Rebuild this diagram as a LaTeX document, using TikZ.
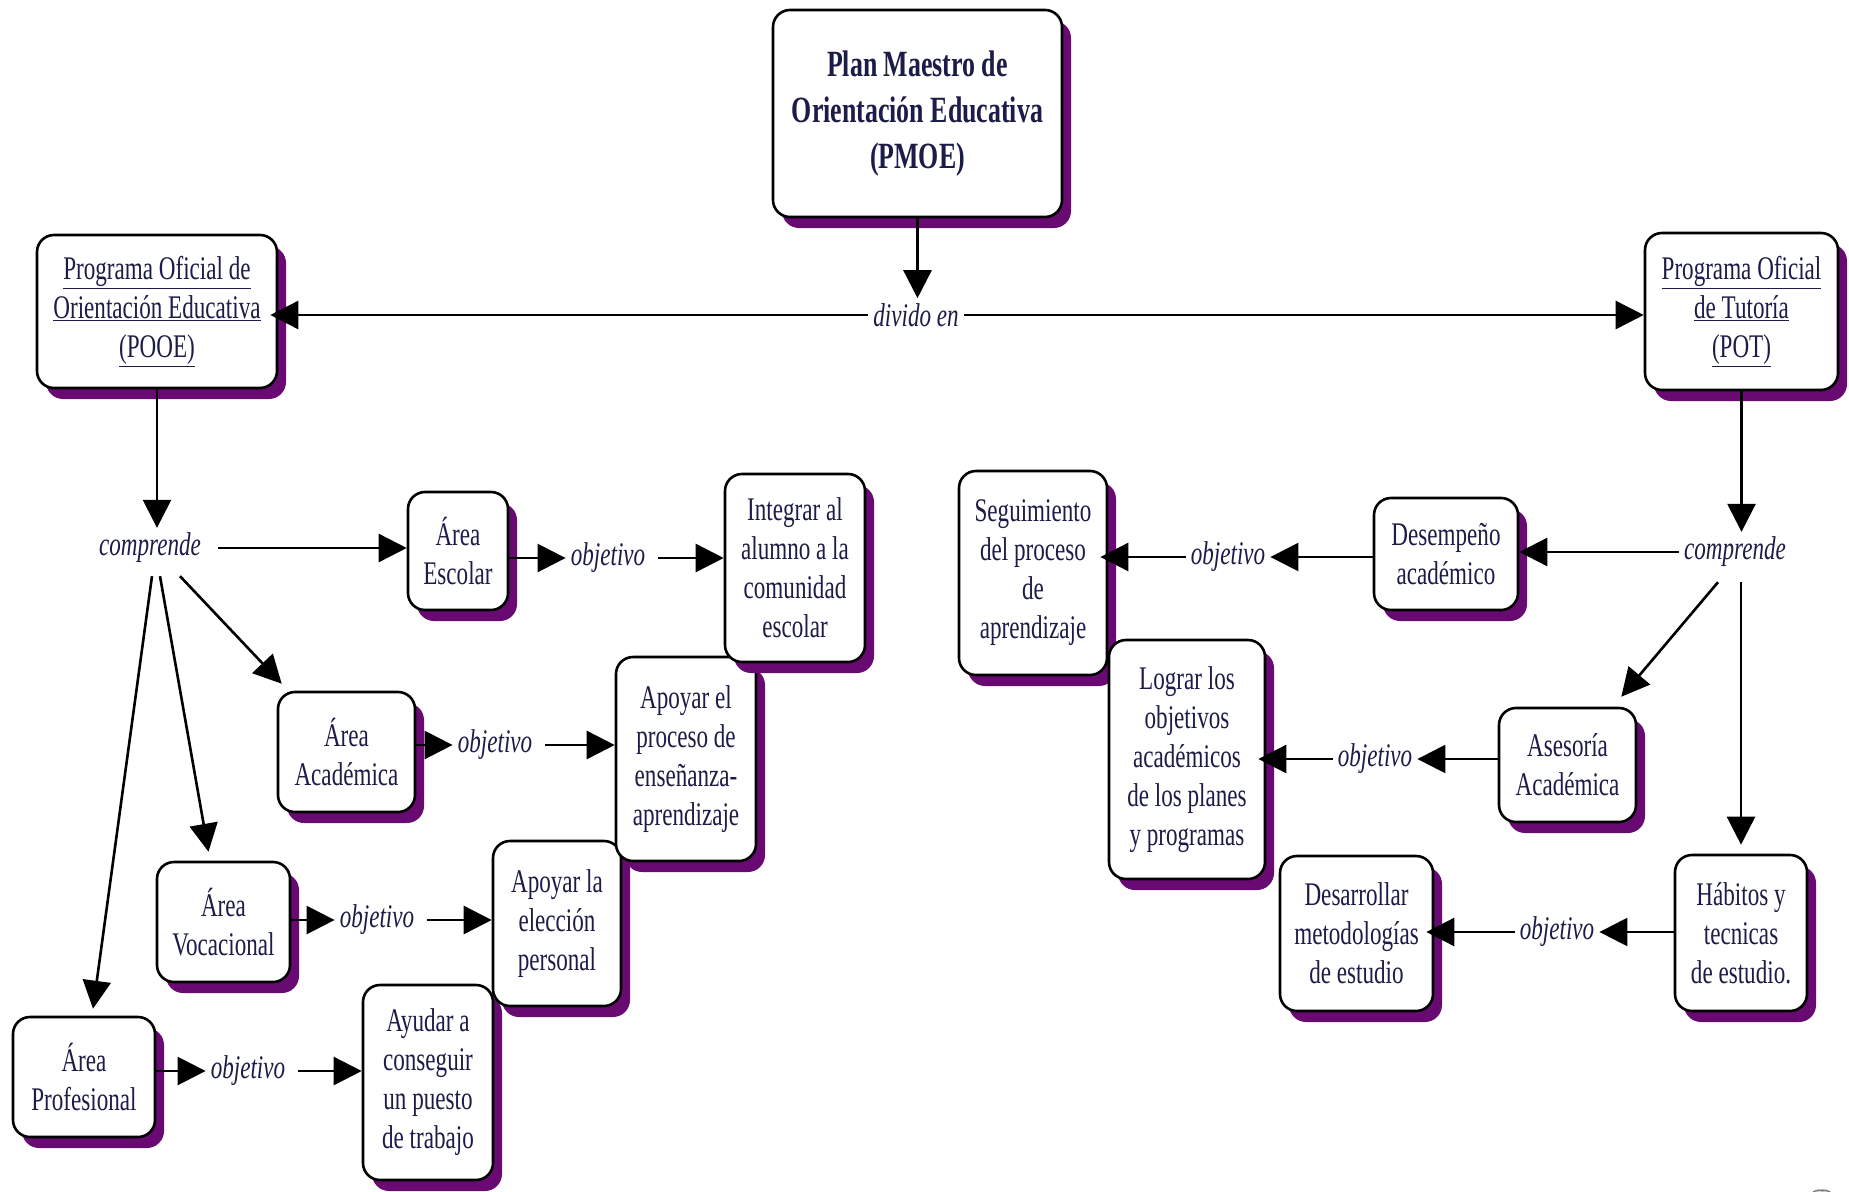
\documentclass[tikz,border=0pt]{standalone}
\usepackage{fontspec}
\setmainfont{Liberation Serif}[FakeStretch=0.7]
\usetikzlibrary{arrows.meta,shadows,calc}
\definecolor{textc}{RGB}{28,28,72}
\definecolor{shadowc}{RGB}{105,10,115}
\begin{document}
\begin{tikzpicture}[x=1pt,y=-1pt,
  box/.style={draw=black, line width=2.6pt, rounded corners=17pt, fill=white,
    align=center, text=textc, inner sep=2pt, font=\fontsize{33}{39}\selectfont,
    drop shadow={shadow xshift=9pt, shadow yshift=-11pt, fill=shadowc, opacity=1}},
  lbl/.style={font=\fontsize{33}{39}\selectfont\itshape, text=textc, inner sep=5pt},
  conn/.style={line width=2.6pt, -{Triangle[length=28pt,width=28pt]}},
  toshadow/.style={shorten >=-8pt}
]
\useasboundingbox (0,0) rectangle (1849,1191);

% top level
\node[box, font=\fontsize{37}{46}\selectfont\bfseries, minimum width=289pt, minimum height=207pt] (pmoe) at (917.5,113.5)
  {Plan Maestro de\\Orientación Educativa\\(PMOE)};
\node[box, minimum width=240pt, minimum height=153pt] (pooe) at (157,311.5)
  {\underline{Programa Oficial de}\\\underline{Orientación Educativa}\\\underline{(POOE)}};
\node[box, minimum width=193pt, minimum height=157pt] (pot) at (1741.5,311.5)
  {\underline{Programa Oficial}\\\underline{de Tutoría}\\\underline{(POT)}};
\node[lbl] (divido) at (916,315) {divido en};

% left side boxes (lower ones first)
\node[box, minimum width=130pt, minimum height=195pt] (ayudar) at (428,1082.5)
  {Ayudar a\\conseguir\\un puesto\\de trabajo};
\node[box, minimum width=142pt, minimum height=120pt] (profesional) at (84,1077)
  {Área\\Profesional};
\node[box, minimum width=128pt, minimum height=165pt] (apoyarE) at (557,923.5)
  {Apoyar la\\elección\\personal};
\node[box, minimum width=133pt, minimum height=120pt] (vocacional) at (223.5,922)
  {Área\\Vocacional};
\node[box, minimum width=140pt, minimum height=204pt] (apoyarP) at (686,759)
  {Apoyar el\\proceso de\\enseñanza-\\aprendizaje};
\node[box, minimum width=137pt, minimum height=120pt] (academica) at (346.5,752)
  {Área\\Académica};
\node[box, minimum width=140pt, minimum height=188pt] (integrar) at (795,568)
  {Integrar al\\alumno a la\\comunidad\\escolar};
\node[box, minimum width=100pt, minimum height=118pt] (escolar) at (458,551)
  {Área\\Escolar};

\node[lbl] (compL) at (150,548) {comprende};
\node[lbl] (obj1) at (608,558) {objetivo};
\node[lbl] (obj2) at (495,745) {objetivo};
\node[lbl] (obj3) at (377,920) {objetivo};
\node[lbl] (obj4) at (248,1071) {objetivo};

% right side boxes
\node[box, minimum width=153pt, minimum height=155pt] (desarrollar) at (1356.5,933.5)
  {Desarrollar\\metodologías\\de estudio};
\node[box, minimum width=132pt, minimum height=156pt] (habitos) at (1741,933)
  {Hábitos y\\tecnicas\\de estudio.};
\node[box, minimum width=148pt, minimum height=204pt] (seguimiento) at (1033,573)
  {Seguimiento\\del proceso\\de\\aprendizaje};
\node[box, minimum width=156pt, minimum height=239pt] (lograr) at (1187,759.5)
  {Lograr los\\objetivos\\académicos\\de los planes\\y programas};
\node[box, minimum width=137pt, minimum height=114pt] (asesoria) at (1567.5,765)
  {Asesoría\\Académica};
\node[box, minimum width=144pt, minimum height=112pt] (desempeno) at (1446,554)
  {Desempeño\\académico};

\node[lbl] (compR) at (1735,552) {comprende};
\node[lbl] (objR1) at (1228,557) {objetivo};
\node[lbl] (objR2) at (1375,759) {objetivo};
\node[lbl] (objR3) at (1557,932) {objetivo};

% page number fragment
\node[text=gray, rotate=90, font=\fontsize{30}{30}\selectfont, inner sep=0pt] (pagenum) at (1822,1194) {9};

% connectors: top
\draw[conn] (pmoe.south) -- (pmoe.south |- divido.north);
\draw[conn, toshadow] (divido.west) -- (divido.west -| pooe.east);
\draw[conn] (divido.east) -- (divido.east -| pot.west);

% left
\draw[conn] (pooe.south) -- (pooe.south |- compL.north);
\draw[conn] ([xshift=12pt]compL.east) -- (compL.east -| escolar.west);
\draw[conn] ($(compL.south)+(30,8)$) -- ($(academica.north west)+(5,-7)$);
\draw[conn] ($(compL.south)+(10,8)$) -- ($(vocacional.north)+(-15,-9)$);
\draw[conn] ($(compL.south)+(2,8)$) -- ($(profesional.north)+(9,-7)$);

\draw[conn] (escolar.east |- obj1.west) -- (obj1.west);
\draw[conn] ([xshift=8pt]obj1.east) -- (obj1.east -| integrar.west);
\draw[conn] (academica.east |- obj2.west) -- (obj2.west);
\draw[conn] ([xshift=8pt]obj2.east) -- (obj2.east -| apoyarP.west);
\draw[conn] (vocacional.east |- obj3.west) -- (obj3.west);
\draw[conn] ([xshift=8pt]obj3.east) -- (obj3.east -| apoyarE.west);
\draw[conn] (profesional.east |- obj4.west) -- (obj4.west);
\draw[conn] ([xshift=8pt]obj4.east) -- (obj4.east -| ayudar.west);

% right
\draw[conn] (pot.south) -- (pot.south |- compR.north);
\draw[conn] (compR.west) -- (compR.west -| desempeno.east);
\draw[conn] ($(compR.south)+(-17,10)$) -- ($(asesoria.north east)+(-16,-10)$);
\draw[conn] ([yshift=-10pt]compR.south -| habitos.north) -- ([yshift=9pt]habitos.north);

\draw[conn] (desempeno.west |- objR1.east) -- (objR1.east);
\draw[conn, toshadow] (objR1.west) -- (objR1.west -| seguimiento.east);
\draw[conn] (asesoria.west |- objR2.east) -- (objR2.east);
\draw[conn, toshadow] (objR2.west) -- (objR2.west -| lograr.east);
\draw[conn] (habitos.west |- objR3.east) -- (objR3.east);
\draw[conn, toshadow] (objR3.west) -- (objR3.west -| desarrollar.east);
\end{tikzpicture}
\end{document}
